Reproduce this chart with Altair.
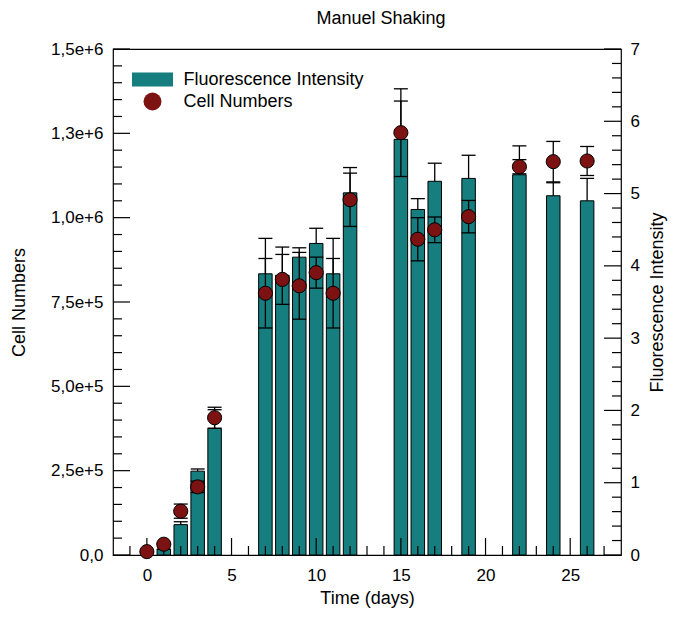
import altair as alt
import pandas as pd

# ---- data ----
DAYS = [0, 1, 2, 3, 4, 7, 8, 9, 10, 11, 12, 15, 16, 17, 19, 22, 24, 26]
CELLS = [1.0e4, 3.2e4, 1.30e5, 2.02e5, 4.07e5, 7.76e5, 8.17e5, 7.98e5, 8.37e5,
         7.76e5, 1.053e6, 1.252e6, 9.36e5, 9.64e5, 1.003e6, 1.151e6, 1.166e6, 1.168e6]
CELLS_ERR = [0, 0, 2.1e4, 1.7e4, 3.1e4, 1.03e5, 7.4e4, 9.9e4, 4.6e4,
             1.03e5, 7.9e4, 1.30e5, 6.4e4, 3.8e4, 4.8e4, 2.1e4, 6.0e4, 4.3e4]
FLUOR = [0, 0.08, 0.42, 1.16, 1.75, 3.89, 3.87, 4.12, 4.31,
         3.89, 5.01, 5.75, 4.78, 5.17, 5.21, 5.26, 4.97, 4.90]
FLUOR_ERR = [0, 0, 0.04, 0.03, 0.26, 0.49, 0.39, 0.13, 0.21,
             0.49, 0.35, 0.53, 0.15, 0.25, 0.32, 0.40, 0.18, 0.31]
SERIES = ["Fluorescence Intensity", "Cell Numbers"]
TITLE = "Manuel Shaking"
X_TITLE = "Time (days)"
YL_TITLE = "Cell Numbers"
YR_TITLE = "Fluorescence Intensity"

X_MAJOR = [0, 5, 10, 15, 20, 25]
X_MINOR = [d for d in range(-1, 28) if d % 5 != 0]
YL_MAJOR = [0, 250000, 500000, 750000, 1000000, 1250000, 1500000]
YL_MINOR = [i * 50000 for i in range(1, 30) if i % 5 != 0]
YR_MAJOR = [0, 1, 2, 3, 4, 5, 6, 7]
YR_MINOR = [round(i * 0.2, 1) for i in range(1, 35) if i % 5 != 0]

# ---- styling ----
W, H = 508, 506
FONT = "Liberation Sans"
TEAL = "#167e7e"
MAROON = "#7c1212"
MAJ, MIN = 17, 9

df = pd.DataFrame({"day": DAYS, "cells": CELLS, "cerr": CELLS_ERR,
                   "fluor": FLUOR, "ferr": FLUOR_ERR})
df["clo"] = df["cells"] - df["cerr"]
df["chi"] = df["cells"] + df["cerr"]
df["fhi"] = df["fluor"] + df["ferr"]
df["series"] = SERIES[1]
bars_df = df[df["fluor"] > 0]

x_scale = alt.Scale(domain=[-2, 28], nice=False, zero=False, padding=0)
yl_scale = alt.Scale(domain=[0, 1.5e6], nice=False, padding=0)
yr_scale = alt.Scale(domain=[0, 7], nice=False, padding=0)

x_axis = alt.Axis(values=X_MAJOR, title=X_TITLE, labelPadding=12, titlePadding=6,
                  labelAngle=0)
yl_axis = alt.Axis(orient="left", values=YL_MAJOR, title=YL_TITLE,
                   labelExpr="datum.value == 0 ? '0,0' : replace(format(datum.value, '.1e'), '.', ',')",
                   labelPadding=10, titlePadding=22)
yr_axis = alt.Axis(orient="right", values=YR_MAJOR, title=YR_TITLE, format="d",
                   labelPadding=9, titlePadding=9, titleAngle=270, titleBaseline="top")


def tick_df(vals):
    return pd.DataFrame({"v": vals})


X = alt.X("day:Q", scale=x_scale, axis=x_axis)

# ---- right (fluorescence) group ----
bars = alt.Chart(bars_df).mark_bar(size=13.5, fill=TEAL, stroke="black", strokeWidth=1).encode(
    x=X, y=alt.Y("fluor:Q", scale=yr_scale, axis=yr_axis))
ferr = alt.Chart(bars_df).mark_rule(color="black", strokeWidth=1.3).encode(
    x=X, y=alt.Y("fluor:Q", scale=yr_scale, axis=yr_axis), y2="fhi:Q")
fcap = alt.Chart(bars_df).mark_tick(orient="horizontal", size=14, thickness=1.3, color="black", opacity=1).encode(
    x=X, y=alt.Y("fhi:Q", scale=yr_scale, axis=yr_axis))
yr_maj = alt.Chart(tick_df(YR_MAJOR)).mark_rule(color="black", strokeWidth=1.2).encode(
    y=alt.Y("v:Q", scale=yr_scale, axis=yr_axis), x=alt.value(W), x2=alt.value(W - MAJ))
yr_min = alt.Chart(tick_df(YR_MINOR)).mark_rule(color="black", strokeWidth=1.2).encode(
    y=alt.Y("v:Q", scale=yr_scale, axis=yr_axis), x=alt.value(W), x2=alt.value(W - MIN))
x_maj = alt.Chart(tick_df(X_MAJOR)).mark_rule(color="black", strokeWidth=1.2).encode(
    x=alt.X("v:Q", scale=x_scale, axis=x_axis), y=alt.value(H), y2=alt.value(H - MAJ))
x_min = alt.Chart(tick_df(X_MINOR)).mark_rule(color="black", strokeWidth=1.2).encode(
    x=alt.X("v:Q", scale=x_scale, axis=x_axis), y=alt.value(H), y2=alt.value(H - MIN))
right = alt.layer(bars, ferr, fcap, yr_maj, yr_min, x_maj, x_min)

# ---- left (cell numbers) group ----
legend = alt.Legend(orient="none", legendX=30, legendY=21, title=None,
                    symbolSize=324, labelOffset=21.5, rowPadding=1, padding=0,
                    labelFontSize=18, labelFont=FONT, labelColor="black", labelLimit=400,
                    symbolStrokeColor="black", symbolStrokeWidth=1, symbolOpacity=1)
cerr = alt.Chart(df).mark_rule(color="black", strokeWidth=1.3).encode(
    x=X, y=alt.Y("clo:Q", scale=yl_scale, axis=yl_axis), y2="chi:Q")
ccap_lo = alt.Chart(df).mark_tick(orient="horizontal", size=14, thickness=1.3, color="black", opacity=1).encode(
    x=X, y=alt.Y("clo:Q", scale=yl_scale, axis=yl_axis))
ccap_hi = alt.Chart(df).mark_tick(orient="horizontal", size=14, thickness=1.3, color="black", opacity=1).encode(
    x=X, y=alt.Y("chi:Q", scale=yl_scale, axis=yl_axis))
points = alt.Chart(df).mark_point(filled=True, size=200, stroke="black", strokeWidth=1, opacity=1).encode(
    x=X, y=alt.Y("cells:Q", scale=yl_scale, axis=yl_axis),
    color=alt.Color("series:N", scale=alt.Scale(domain=SERIES, range=[TEAL, MAROON]), legend=legend),
    shape=alt.Shape("series:N", scale=alt.Scale(domain=SERIES,
                                                range=["M-2.28,-0.78H2.28V0.78H-2.28Z", "circle"]),
                    legend=legend))
yl_maj = alt.Chart(tick_df(YL_MAJOR)).mark_rule(color="black", strokeWidth=1.2).encode(
    y=alt.Y("v:Q", scale=yl_scale, axis=yl_axis), x=alt.value(0), x2=alt.value(MAJ))
yl_min = alt.Chart(tick_df(YL_MINOR)).mark_rule(color="black", strokeWidth=1.2).encode(
    y=alt.Y("v:Q", scale=yl_scale, axis=yl_axis), x=alt.value(0), x2=alt.value(MIN))
left = alt.layer(cerr, ccap_lo, ccap_hi, points, yl_maj, yl_min)

chart = (
    alt.layer(right, left)
    .resolve_scale(y="independent")
    .properties(width=W, height=H,
                title=alt.TitleParams(TITLE, offset=12, anchor="middle", dx=14),
                padding={"left": 105, "top": 41, "right": 47, "bottom": 53},
                autosize=alt.AutoSizeParams(type="none"))
    .configure_view(stroke="black", strokeWidth=1.2)
    .configure_scale(continuousPadding=0)
    .configure_axis(labelFont=FONT, titleFont=FONT, labelFontSize=17, titleFontSize=18,
                    titleFontWeight="normal", labelColor="black", titleColor="black",
                    grid=False, domain=False, ticks=False, tickSize=0)
    .configure_title(font=FONT, fontSize=18, fontWeight="normal", color="black")
)

chart.save("out.html", embed_options={"renderer": "svg", "actions": False})
